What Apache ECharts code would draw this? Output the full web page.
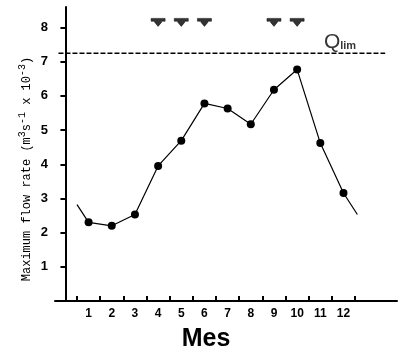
<!DOCTYPE html>
<html><head><meta charset="utf-8">
<script src="https://cdn.jsdelivr.net/npm/echarts@6/dist/echarts.min.js"></script>
<style>html,body{margin:0;padding:0;background:#fff}#c{width:400px;height:357px}</style>
</head><body><div id="c"></div>
<script>
const months = [1,2,3,4,5,6,7,8,9,10,11,12];
const flow = [2.3,2.2,2.53,3.95,4.69,5.78,5.63,5.17,6.18,6.77,4.62,3.16];
const lineStart = [0.5, 2.82];
const lineEnd = [12.6, 2.53];
const arrowMonths = [4,5,6,9,10];
const arrowLevel = 8.15;
const qlim = 7.25;
const qlimSpan = [-0.3, 13.8];
const qlimLabelX = 11.85;
const yTickValues = [1,2,3,4,5,6,7,8];
const xTickBounds = [0.5,1.5,2.5,3.5,4.5,5.5,6.5,7.5,8.5,9.5,10.5,11.5,12.5];

const chart = echarts.init(document.getElementById('c'));
const lineData = [{value: lineStart, symbol: 'none'}]
  .concat(months.map((m,i)=>[m, flow[i]]))
  .concat([{value: lineEnd, symbol: 'none'}]);
const arrowPath = 'path://M0,0 L16,0 L16,3 L12,3 L12,4 L8,8.5 L4,4 L4,3 L0,3 Z';
chart.setOption({
  animation: false,
  grid: {left: 55, right: 3, top: 7, bottom: 54},
  xAxis: {
    type: 'value', min: -0.45, max: 14.31,
    axisLine: {show: true, lineStyle: {color: '#000', width: 2}},
    axisTick: {show: true, inside: true, length: 5, lineStyle: {color:'#000', width: 2}, customValues: xTickBounds},
    axisLabel: {customValues: months, color: '#000', fontWeight: 'bold', fontSize: 12, fontFamily: 'Liberation Sans, Arial', margin: 7},
    splitLine: {show: false},
    name: 'Mes', nameLocation: 'middle', nameGap: 26,
    nameTextStyle: {fontSize: 25, fontWeight: 'bold', color: '#000', fontFamily: 'Liberation Sans, Arial', padding:[0,0,0,-40]}
  },
  yAxis: {
    type: 'value', min: 0, max: 8.6,
    axisLine: {show: true, lineStyle: {color: '#000', width: 2}},
    axisTick: {show: true, inside: false, length: 5, lineStyle: {color:'#000', width: 2}, customValues: yTickValues},
    axisLabel: {customValues: yTickValues, color: '#000', fontWeight: 'bold', fontSize: 13, fontFamily: 'Liberation Sans, Arial', margin: 7},
    splitLine: {show: false}
  },
  graphic: [{
    type: 'text', x: 27, y: 169, rotation: Math.PI/2,
    style: {
      text: 'Maximum flow rate (m{sup|3}s{sup|-1} x 10{sup|-3})',
      font: '12px "Liberation Mono", monospace',
      fill: '#000', align: 'center', verticalAlign: 'middle',
      rich: {sup: {fontSize: 10, fontFamily: 'Liberation Mono', padding: [0,0,9,0], fill: '#000'}}
    }
  }],
  series: [
    {
      type: 'line', data: lineData, symbol: 'circle', symbolSize: 8,
      itemStyle: {color: '#000'}, lineStyle: {color: '#000', width: 1.2}, z: 3
    },
    {
      type: 'line', data: qlimSpan.map(x=>[x, qlim]), symbol: 'none',
      lineStyle: {color: '#000', width: 1.5, type: [5,2]}
    },
    {
      type: 'scatter', data: [[qlimLabelX, qlim]], symbolSize: 0,
      label: {show: true, position: 'top', distance: 0, formatter: 'Q{s|lim}',
        color: '#000', fontSize: 21, fontFamily: 'Liberation Sans, Arial',
        rich: {s: {fontSize: 11, fontWeight: 'bold', fontFamily: 'Liberation Sans, Arial', color: '#000', padding: [7,0,0,0]}}}
    },
    {
      type: 'scatter', data: arrowMonths.map(m=>[m, arrowLevel]),
      symbol: arrowPath, symbolSize: [14, 8], itemStyle: {color: '#000', borderColor: '#000', borderWidth: 0.6}
    }
  ]
});
</script></body></html>
